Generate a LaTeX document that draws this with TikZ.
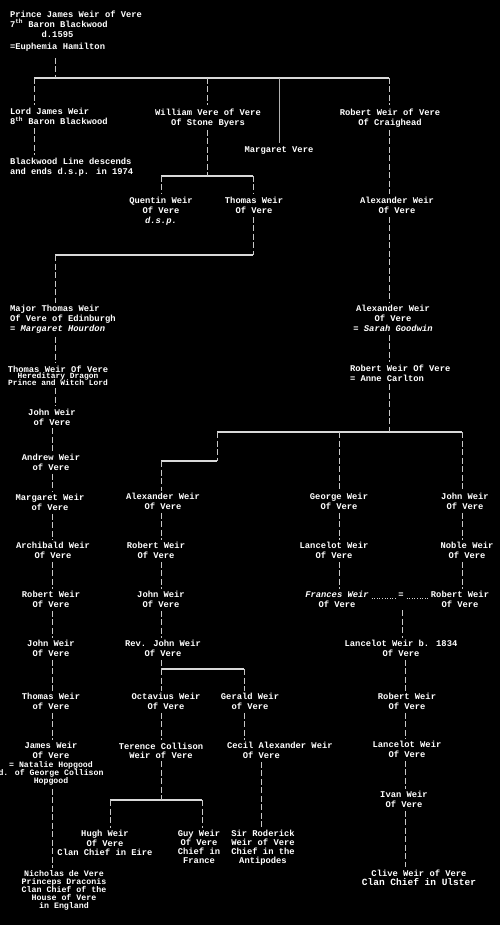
\documentclass[tikz,border=0pt]{standalone}
\usepackage{fontspec}
\setmainfont{Liberation Mono}
\lineskiplimit=-10pt
\begin{document}
\begin{tikzpicture}[x=1pt,y=-1pt,
    every node/.style={text=white,inner sep=0pt,outer sep=3pt,font=\fontsize{8.8}{10}\selectfont\bfseries},
    kin/.style={align=center,anchor=north,yshift=3pt},
    kinleft/.style={align=left,anchor=north west,xshift=-3pt,yshift=3pt},
    vline/.style={draw=white!78!black,line width=0.9pt,dash pattern=on 6pt off 2.5pt},
    bar/.style={draw=white!85!black,line width=1.1pt}]
    \useasboundingbox (0,0) rectangle (500,925);
    \fill[black] (0,0) rectangle (500,925);
    % junctions of the bars
    \coordinate (b1L) at (34,78);
    \coordinate (b1R) at (389,78);
    \coordinate (b1p) at (55,78);
    \coordinate (b1w) at (207,78);
    \coordinate (b1m) at (279,78);
    \coordinate (b2L) at (161,176);
    \coordinate (b2R) at (253,176);
    \coordinate (b2w) at (207,176);
    \coordinate (b3L) at (55,255);
    \coordinate (b3R) at (253,255);
    \coordinate (b4L) at (217,432);
    \coordinate (b4R) at (462,432);
    \coordinate (b4r) at (389,432);
    \coordinate (b4g) at (339,432);
    \coordinate (b5L) at (161,461);
    \coordinate (b5R) at (217,461);
    \coordinate (b6L) at (161,669);
    \coordinate (b6R) at (244,669);
    \coordinate (b7L) at (110,800);
    \coordinate (b7R) at (202,800);
    \coordinate (b7t) at (161,800);
    \coordinate (rod) at (261,0);
    \coordinate (colL) at (52,0);
    \coordinate (colR) at (405,0);
    \coordinate (wed) at (402,598);
    % first generations
    \node[kinleft] (prince) at (10,10.5) {Prince James Weir of Vere\\7\textsuperscript{th} Baron Blackwood\\\phantom{123456}d.1595\\[2pt]=Euphemia Hamilton};
    \node[kinleft] (lordJames) at (10,108.5) {Lord James Weir\\8\textsuperscript{th} Baron Blackwood};
    \node[kinleft] (blackwood) at (10,158.5) {Blackwood Line descends\\and ends d.s.p. in 1974};
    \node[kin] (william) at (208,108.5) {William Vere of Vere\\Of Stone Byers};
    \node[kin] (margaret) at (279,146.5) {Margaret Vere};
    \node[kin] (robertC) at (390,108.5) {Robert Weir of Vere\\Of Craighead};
    \node[kin] (quentin) at (161,197.5) {Quentin Weir\\Of Vere\\[-0.5pt]\textit{d.s.p.}};
    \node[kin] (thomasW) at (254,197.5) {Thomas Weir\\Of Vere};
    \node[kin] (alexA) at (397,197.5) {Alexander Weir\\Of Vere};
    \node[kin] (alexB) at (393,305.5) {Alexander Weir\\Of Vere\\= \textit{Sarah Goodwin}};
    \node[kinleft] (robertA) at (350,364.5) {Robert Weir Of Vere\\= Anne Carlton};
    % left line
    \node[kinleft] (majorThomas) at (10,305.5) {Major Thomas Weir\\Of Vere of Edinburgh\\= \textit{Margaret Hourdon}};
    \node[kin] (thomasHD) at (58,365.5) {Thomas Weir Of Vere\\[-3.5pt]{\fontsize{7.9}{10}\selectfont Hereditary Dragon}\\[-3.5pt]{\fontsize{7.9}{10}\selectfont Prince and Witch Lord}};
    \node[kin] (johnA) at (52,409) {John Weir\\of Vere};
    \node[kin] (andrew) at (51,454.5) {Andrew Weir\\of Vere};
    \node[kin] (margaretW) at (50,494.5) {Margaret Weir\\of Vere};
    \node[kin] (archibald) at (53,542.5) {Archibald Weir\\Of Vere};
    \node[kin] (robertL) at (51,591.5) {Robert Weir\\Of Vere};
    \node[kin] (johnL) at (51,640.5) {John Weir\\Of Vere};
    \node[kin] (thomasL) at (51,693.5) {Thomas Weir\\of Vere};
    \node[kin] (jamesW) at (51,742.5) {James Weir\\Of Vere\\[-1pt]{\fontsize{8.2}{10}\selectfont = Natalie Hopgood}\\[-2pt]{\fontsize{8.2}{10}\selectfont d. of George Collison}\\[-2pt]{\fontsize{8.2}{10}\selectfont Hopgood}};
    \node[kin,font=\fontsize{8.3}{8}\selectfont\bfseries] (nicholas) at (64,870.5) {Nicholas de Vere\\Princeps Draconis\\Clan Chief of the\\House of Vere\\in England};
    % middle line
    \node[kin] (alexC) at (163,493.5) {Alexander Weir\\Of Vere};
    \node[kin] (robertC2) at (156,542.5) {Robert Weir\\Of Vere};
    \node[kin] (johnC) at (161,591.5) {John Weir\\Of Vere};
    \node[kin] (revJohn) at (163,640.5) {Rev. John Weir\\Of Vere};
    \node[kin] (octavius) at (166,693.5) {Octavius Weir\\Of Vere};
    \node[kin] (gerald) at (250,693.5) {Gerald Weir\\of Vere};
    \node[kin,font=\fontsize{8.8}{9}\selectfont\bfseries] (terence) at (161,743) {Terence Collison\\Weir of Vere};
    \node[kinleft] (cecil) at (227,742.5) {Cecil Alexander Weir\\\phantom{abc}Of Vere};
    \node[kin,font=\fontsize{8.8}{9}\selectfont\bfseries] (roderick) at (263,830.5) {Sir Roderick\\Weir of Vere\\Chief in the\\Antipodes};
    \node[kin,font=\fontsize{8.8}{9.5}\selectfont\bfseries] (hugh) at (105,830.5) {Hugh Weir\\Of Vere\\Clan Chief in Eire};
    \node[kin,font=\fontsize{8.8}{9}\selectfont\bfseries] (guy) at (199,830.5) {Guy Weir\\Of Vere\\Chief in\\France};
    % right lines
    \node[kin] (george) at (339,493.5) {George Weir\\Of Vere};
    \node[kin] (lancelotG) at (334,542.5) {Lancelot Weir\\Of Vere};
    \node[kin] (frances) at (337,591.5) {\textit{Frances Weir}\\Of Vere};
    \node[kin] (johnR) at (465,493.5) {John Weir\\Of Vere};
    \node[kin] (noble) at (467,542.5) {Noble Weir\\Of Vere};
    \node[kin] (robertR) at (460,591.5) {Robert Weir\\Of Vere};
    \node (eq) at (401,595) {=};
    \node[kin] (lancelotB) at (401,640.5) {Lancelot Weir b. 1834\\Of Vere};
    \node[kin] (robertB) at (407,693.5) {Robert Weir\\Of Vere};
    \node[kin] (lancelotC) at (407,741.5) {Lancelot Weir\\Of Vere};
    \node[kin] (ivan) at (404,791.5) {Ivan Weir\\Of Vere};
    \node[kin,font=\fontsize{8.8}{9}\selectfont\bfseries] (clive) at (419,869.5) {Clive Weir of Vere\\{\fontsize{9.5}{9}\selectfont Clan Chief in Ulster}};
    % bars
    \draw[bar] (b1L) -- (b1R) (b2L) -- (b2R) (b3L) -- (b3R) (b4L) -- (b4R)
        (b5L) -- (b5R) (b6L) -- (b6R) (b7L) -- (b7R);
    \draw[draw=white!70!black,line width=1pt] (b1m) -- (b1m |- margaret.north);
    % descent lines
    \draw[vline,shorten <=4pt] (b1p |- prince.south) -- (b1p);
    \draw[vline] (b1L) -- (b1L |- lordJames.north) (b1L |- lordJames.south) -- (b1L |- blackwood.north);
    \draw[vline] (b1w) -- (b1w |- william.north) (b1w |- william.south) -- (b2w);
    \draw[vline] (b1R) -- (b1R |- robertC.north) (b1R |- robertC.south) -- (b1R |- alexA.north)
        (b1R |- alexA.south) -- (b1R |- alexB.north) (b1R |- alexB.south) -- (b1R |- robertA.north)
        (b1R |- robertA.south) -- (b4r);
    \draw[vline] (b2L) -- (b2L |- quentin.north) (b2R) -- (b2R |- thomasW.north) (b2R |- thomasW.south) -- (b3R);
    \draw[vline] (b3L) -- (b3L |- majorThomas.north) (b3L |- majorThomas.south) -- (b3L |- thomasHD.north)
        (b3L |- thomasHD.south) -- (b3L |- johnA.north);
    \draw[vline] (colL |- johnA.south) -- (colL |- andrew.north) (colL |- andrew.south) -- (colL |- margaretW.north)
        (colL |- margaretW.south) -- (colL |- archibald.north) (colL |- archibald.south) -- (colL |- robertL.north)
        (colL |- robertL.south) -- (colL |- johnL.north) (colL |- johnL.south) -- (colL |- thomasL.north)
        (colL |- thomasL.south) -- (colL |- jamesW.north) (colL |- jamesW.south) -- (colL |- nicholas.north);
    \draw[vline] (b4L) -- (b5R) (b5L) -- (b5L |- alexC.north) (b5L |- alexC.south) -- (b5L |- robertC2.north)
        (b5L |- robertC2.south) -- (b5L |- johnC.north) (b5L |- johnC.south) -- (b5L |- revJohn.north)
        (b5L |- revJohn.south) -- (b6L);
    \draw[vline] (b6L) -- (b6L |- octavius.north) (b6R) -- (b6R |- gerald.north)
        (b6L |- octavius.south) -- (b6L |- terence.north) (b6R |- gerald.south) -- (b6R |- cecil.north)
        (rod |- cecil.south) -- (rod |- roderick.north);
    \draw[vline] (b7t |- terence.south) -- (b7t) (b7L) -- (b7L |- hugh.north) (b7R) -- (b7R |- guy.north);
    \draw[vline] (b4g) -- (b4g |- george.north) (b4g |- george.south) -- (b4g |- lancelotG.north)
        (b4g |- lancelotG.south) -- (b4g |- frances.north);
    \draw[vline] (b4R) -- (b4R |- johnR.north) (b4R |- johnR.south) -- (b4R |- noble.north)
        (b4R |- noble.south) -- (b4R |- robertR.north);
    \draw[white!85!black,line width=0.9pt,dash pattern=on 1pt off 1.6pt] (frances.east |- wed) -- (eq.west |- wed)
        (eq.east |- wed) -- (robertR.west |- wed);
    \draw[vline,shorten <=12pt] (wed) -- (wed |- lancelotB.north);
    \draw[vline] (colR |- lancelotB.south) -- (colR |- robertB.north) (colR |- robertB.south) -- (colR |- lancelotC.north)
        (colR |- lancelotC.south) -- (colR |- ivan.north) (colR |- ivan.south) -- (colR |- clive.north);
\end{tikzpicture}
\end{document}
